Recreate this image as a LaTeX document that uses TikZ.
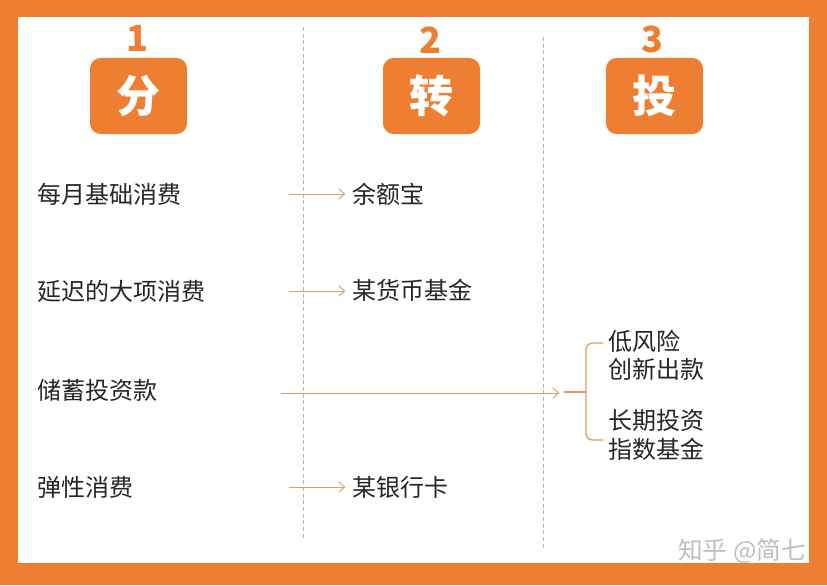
\documentclass[tikz,border=0pt]{standalone}
\usepackage{fontspec}
\usetikzlibrary{arrows.meta}
\setmainfont{Noto Sans CJK SC}
\definecolor{frameorange}{HTML}{EE7E32}
\definecolor{linkorange}{HTML}{E59A62}
\tikzset{
  headbox/.style={fill=frameorange,rounded corners=8pt,minimum width=72.75pt,minimum height=57pt,inner sep=0pt,text=white,font=\fontsize{33}{33}\selectfont\bfseries},
  headnum/.style={text=frameorange,inner sep=0pt,font=\fontsize{27}{27}\selectfont\bfseries},
  lab/.style={anchor=west,inner sep=0pt,text=black!85,font=\fontsize{18}{20}\selectfont},
  divider/.style={densely dashed,gray!60,line width=0.5pt},
  link/.style={-{Straight Barb[length=4.5pt,width=8pt]},linkorange,line width=0.7pt,shorten >=5pt},
  bracket/.style={linkorange,line width=1pt,rounded corners=5pt}
}
\begin{document}
\begin{tikzpicture}[x=0.75pt,y=-0.75pt]
  \useasboundingbox (0,0) rectangle (827,585);
  \fill[frameorange](0,0)rectangle(827,585);
  \fill[white](18,17)rectangle(809,563);
  % column dividers
  \coordinate(d1a)at(303,27); \coordinate(d1b)at(303,540);
  \coordinate(d2a)at(543,37); \coordinate(d2b)at(543,548);
  \draw[divider](d1a)--(d1b);
  \draw[divider](d2a)--(d2b);
  % headers
  \node[headbox](fen)at(138.5,96){分};
  \node[headbox](zhuan)at(431.5,96){转};
  \node[headbox](tou)at(654.5,96){投};
  \node[headnum](n1)at(137,38){1};
  \node[headnum](n2)at(430,40){2};
  \node[headnum](n3)at(652,39){3};
  % left column
  \node[lab](a1)at(37,194){每月基础消费};
  \node[lab](a2)at(37,291){延迟的大项消费};
  \node[lab](a3)at(37,390){储蓄投资款};
  \node[lab](a4)at(37,487){弹性消费};
  % middle column
  \node[lab](b1)at(352,194){余额宝};
  \node[lab](b2)at(352,290){某货币基金};
  \node[lab](b4)at(352,487){某银行卡};
  % right column
  \node[lab](c1)at(608,341){低风险};
  \node[lab](c2)at(608,369){创新出款};
  \node[lab](c3)at(608,420){长期投资};
  \node[lab](c4)at(608,449){指数基金};
  % arrows
  \coordinate(s1)at(289,194); \coordinate(s2)at(289,291);
  \coordinate(s3)at(281,393); \coordinate(s4)at(289,487);
  \coordinate(e3)at(566,393);
  \draw[link](s1)--(s1-|b1.west);
  \draw[link](s2)--(s2-|b2.west);
  \draw[link](s3)--(e3);
  \draw[link](s4)--(s4-|b4.west);
  % bracket
  \coordinate(b0)at(564,392); \coordinate(bm)at(586,392);
  \coordinate(bt)at(603,343); \coordinate(bb)at(603,440);
  \draw[linkorange,line width=1pt](b0)--(bm);
  \draw[bracket](bt)-|(bm)|-(bb);
  % watermark
  \node[anchor=east,inner sep=0pt,text=gray!50,font=\fontsize{18.5}{20}\selectfont](mark)at(806,551){知乎 @简七};
\end{tikzpicture}
\end{document}
